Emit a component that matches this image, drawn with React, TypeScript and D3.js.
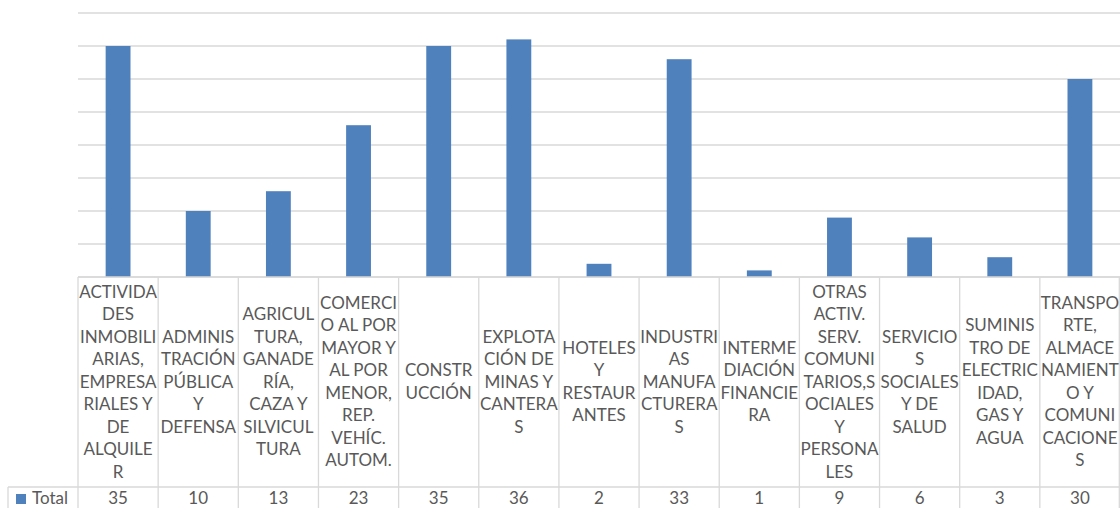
import React from "react";
import * as d3 from "d3";

const categoryLines: string[][] = [
  ["ACTIVIDA", "DES", "INMOBILI", "ARIAS,", "EMPRESA", "RIALES Y", "DE", "ALQUILE", "R"],
  ["ADMINIS", "TRACIÓN", "PÚBLICA", "Y", "DEFENSA"],
  ["AGRICUL", "TURA,", "GANADE", "RÍA,", "CAZA Y", "SILVICUL", "TURA"],
  ["COMERCI", "O AL POR", "MAYOR Y", "AL POR", "MENOR,", "REP.", "VEHÍC.", "AUTOM."],
  ["CONSTR", "UCCIÓN"],
  ["EXPLOTA", "CIÓN DE", "MINAS Y", "CANTERA", "S"],
  ["HOTELES", "Y", "RESTAUR", "ANTES"],
  ["INDUSTRI", "AS", "MANUFA", "CTURERA", "S"],
  ["INTERME", "DIACIÓN", "FINANCIE", "RA"],
  ["OTRAS", "ACTIV.", "SERV.", "COMUNI", "TARIOS,S", "OCIALES", "Y", "PERSONA", "LES"],
  ["SERVICIO", "S", "SOCIALES", "Y DE", "SALUD"],
  ["SUMINIS", "TRO DE", "ELECTRIC", "IDAD,", "GAS Y", "AGUA"],
  ["TRANSPO", "RTE,", "ALMACE", "NAMIENT", "O Y", "COMUNI", "CACIONE", "S"],
];
const categories: string[] = categoryLines.map((l) => l.join(" "));
const totals: number[] = [35, 10, 13, 23, 35, 36, 2, 33, 1, 9, 6, 3, 30];
const seriesName = "Total";
const yTicks: number[] = [0, 5, 10, 15, 20, 25, 30, 35, 40];

const W = 1120;
const H = 508;
const plotLeft = 78;
const plotRight = 1120;
const plotTop = 13;
const baseY = 277;
const headerBottom = 487;
const rowBottom = 514;
const tableLeft = 8;
const lineH = 22.5;
const textColor = "#595959";
const gridColor = "#d9d9d9";
const barColor = "#4F81BD";
const font = "Lato, 'Open Sans', sans-serif";
const fs = 17;

export default function App() {
  const x = d3.scaleBand<string>().domain(categories).range([plotLeft, plotRight]).padding(0);
  const y = d3.scaleLinear().domain([0, 40]).range([baseY, plotTop]);
  const bw = x.bandwidth();
  const barW = bw * 0.31;
  const headerMid = (baseY + headerBottom) / 2 - 0.5;
  const rowMid = 498;

  return (
    <svg width={W} height={H} style={{ position: "absolute", left: 0, top: 0, background: "#fff" }}>
      <rect x={0} y={0} width={W} height={H} fill="#fff" />
      {yTicks.map((t) => (
        <line key={t} x1={plotLeft} x2={plotRight} y1={y(t)} y2={y(t)} stroke={gridColor} strokeWidth={1.3} />
      ))}
      {categories.map((c, i) => (
        <rect
          key={c}
          x={(x(c) as number) + (bw - barW) / 2}
          y={y(totals[i])}
          width={barW}
          height={baseY - y(totals[i])}
          fill={barColor}
        />
      ))}
      {/* table lines */}
      <line x1={plotLeft} x2={plotRight} y1={baseY} y2={baseY} stroke={gridColor} strokeWidth={1.3} />
      <line x1={tableLeft} x2={plotRight} y1={headerBottom} y2={headerBottom} stroke={gridColor} strokeWidth={1.3} />
      <line x1={tableLeft} x2={tableLeft} y1={headerBottom} y2={rowBottom} stroke={gridColor} strokeWidth={1.3} />
      {categories.map((c) => (
        <line key={"v" + c} x1={x(c) as number} x2={x(c) as number} y1={baseY} y2={rowBottom} stroke={gridColor} strokeWidth={1.3} />
      ))}
      <line x1={plotRight - 0.7} x2={plotRight - 0.7} y1={baseY} y2={rowBottom} stroke={gridColor} strokeWidth={1.3} />
      {/* header labels */}
      {categoryLines.map((lines, i) => {
        const cx = (x(categories[i]) as number) + bw / 2;
        const start = headerMid - ((lines.length - 1) * lineH) / 2;
        return (
          <text key={"t" + i} x={cx} textAnchor="middle" fontFamily={font} fontSize={fs} fill={textColor}>
            {lines.map((ln, j) => (
              <tspan key={j} x={cx} y={start + j * lineH} dy="0.36em">
                {ln}
              </tspan>
            ))}
          </text>
        );
      })}
      {/* value row */}
      <rect x={16} y={494} width={10} height={10} fill={barColor} />
      <text x={32} y={rowMid} dy="0.36em" fontFamily={font} fontSize={fs} fill={textColor}>
        {seriesName}
      </text>
      {categories.map((c, i) => (
        <text
          key={"n" + c}
          x={(x(c) as number) + bw / 2}
          y={rowMid}
          dy="0.36em"
          textAnchor="middle"
          fontFamily={font}
          fontSize={fs}
          fill={textColor}
        >
          {totals[i]}
        </text>
      ))}
    </svg>
  );
}
